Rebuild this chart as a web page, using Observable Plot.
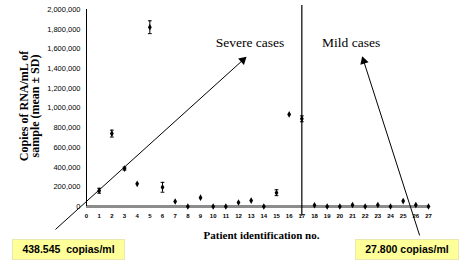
<!DOCTYPE html>
<html><head><meta charset="utf-8">
<script src="https://cdn.jsdelivr.net/npm/d3@7"></script>
<script src="https://cdn.jsdelivr.net/npm/@observablehq/plot@0.6"></script>
<style>
body{margin:0;background:#fff;}
#wrap{position:relative;width:467px;height:272px;overflow:hidden;}
.box{position:absolute;background:#ffff99;border:1px solid #e8e8b0;font:bold 10.5px "Liberation Sans",Arial,sans-serif;color:#000;text-align:center;line-height:19px;height:19px;white-space:pre;}
</style></head>
<body><div id="wrap"></div>
<script>
const patients = [1,2,3,4,5,6,7,8,9,10,11,12,13,14,15,16,17,18,19,20,21,22,23,24,25,26,27];
const copies = [160000,740000,385000,230000,1820000,195000,50000,0,90000,0,0,40000,60000,0,140000,935000,890000,13000,0,0,15000,0,15000,0,55000,15000,0];
const sd = [25000,35000,15000,0,65000,50000,0,0,0,0,0,0,0,0,30000,0,30000,0,0,0,0,0,0,0,0,0,0];
const xTicks = d3.range(0,28);
const yTicks = d3.range(0,2000001,200000);
const arrowsX1 = [-2.45, 26.3];
const arrowsY1 = [-233000, -294000];
const arrowsX2 = [12.55, 21.8];
const arrowsY2 = [1510000, 1510000];
const labels = ["Severe cases","Mild cases"];
const labelX = [10.2, 18.6];
const labelY = [1660000, 1660000];
const boxTexts = ["438.545  copias/ml","27.800 copias/ml"];

const data = patients.map((p,i)=>({p, v:copies[i], sd:sd[i]}));
const errs = data.filter(d=>d.sd>0);
const arrows = arrowsX1.map((x,i)=>({x1:x,y1:arrowsY1[i],x2:arrowsX2[i],y2:arrowsY2[i]}));
const notes = labels.map((t,i)=>({t,x:labelX[i],y:labelY[i]}));

const frame = {width:467, height:272, marginLeft:86, marginRight:39, marginTop:9, marginBottom:66,
  x:{domain:[0,27]}, y:{domain:[0,2000000]}};

// first pass to read the scales for arrowhead orientation
const probe = Plot.plot({...frame, marks:[Plot.frame()]});
const sx = probe.scale("x"), sy = probe.scale("y");
const heads = arrows.map(a=>{
  const X1=sx.apply(a.x1), Y1=sy.apply(a.y1), X2=sx.apply(a.x2), Y2=sy.apply(a.y2);
  const len=Math.hypot(X2-X1,Y2-Y1), back=3.5/len;
  return {x:a.x2-(a.x2-a.x1)*back, y:a.y2-(a.y2-a.y1)*back,
          rot:Math.atan2(X2-X1, -(Y2-Y1))*180/Math.PI};
});

const chart = Plot.plot({
  ...frame,
  style:{background:"#fff"},
  marks:[
    Plot.ruleY([0],{stroke:"#8c8c8c",strokeWidth:3}),
    Plot.axisY({ticks:yTicks, tickSize:0, tickPadding:6, fontSize:7.5, tickFormat:d3.format(","), fontFamily:"Liberation Sans", label:null}),
    Plot.axisX({ticks:xTicks, tickSize:0, tickPadding:7, fontSize:6, fontWeight:"bold", fontFamily:"Liberation Sans", label:null, tickFormat:d=>String(d)}),
    Plot.ruleX([0],{y1:0,y2:2000000,stroke:"#000",strokeWidth:1}),
    Plot.ruleX([17],{y1:-100000,y2:2040000,stroke:"#000",strokeWidth:1.2}),
    Plot.ruleX(errs,{x:"p", y1:d=>d.v-d.sd, y2:d=>d.v+d.sd, stroke:"#000", strokeWidth:1}),
    Plot.link(errs,{x1:d=>d.p-0.15, x2:d=>d.p+0.15, y1:d=>d.v-d.sd, y2:d=>d.v-d.sd, stroke:"#000"}),
    Plot.link(errs,{x1:d=>d.p-0.15, x2:d=>d.p+0.15, y1:d=>d.v+d.sd, y2:d=>d.v+d.sd, stroke:"#000"}),
    Plot.dot(data,{x:"p", y:"v", symbol:"diamond", r:2, fill:"#000", stroke:"none"}),
    Plot.link(arrows,{x1:"x1",y1:"y1",x2:"x2",y2:"y2", stroke:"#000", strokeWidth:1}),
    Plot.dot(heads,{x:"x",y:"y",rotate:"rot",symbol:"triangle",r:3.2,fill:"#000",stroke:"none"}),
    Plot.text(notes,{x:"x",y:"y",text:"t", textAnchor:"start", fontSize:13.5, fontFamily:"Liberation Serif", fill:"#000"}),
    Plot.text(["Patient identification no."],{frameAnchor:"bottom", dx:4, dy:32, fontSize:11, fontWeight:"bold", fontFamily:"Liberation Serif", fill:"#000"})
  ]
});
const svg = d3.select(chart);
const g = svg.append("text").attr("transform","translate(24,106) rotate(-90)")
  .attr("text-anchor","middle").attr("font-family","Liberation Serif").attr("font-weight","bold").attr("font-size",12);
g.append("tspan").attr("x",0).attr("y",0).attr("dy","0.35em").text("Copies of RNA/mL of");
g.append("tspan").attr("x",0).attr("y",10.5).attr("dy","0.35em").text("sample (mean ± SD)");
const wrap = document.getElementById("wrap");
wrap.appendChild(chart);
const pos = [[12,239,111],[355,239,102]];
boxTexts.forEach((t,i)=>{
  const d = document.createElement("div");
  d.className="box"; d.textContent=t;
  d.style.left=pos[i][0]+"px"; d.style.top=pos[i][1]+"px"; d.style.width=pos[i][2]+"px";
  wrap.appendChild(d);
});
</script></body></html>
